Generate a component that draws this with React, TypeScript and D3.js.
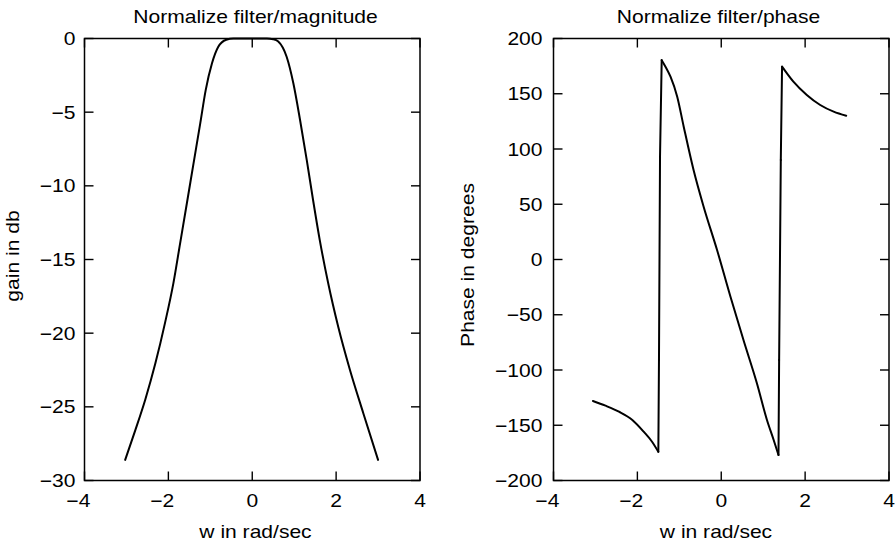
import React from "react";
import * as d3 from "d3";

// ---------- data ----------
const xTicks = [-4, -2, 0, 2, 4];
const magTicks = [0, -5, -10, -15, -20, -25, -30];
const phaseTicks = [200, 150, 100, 50, 0, -50, -100, -150, -200];

const magW = [-3.03, -2.79, -2.55, -2.31, -2.08, -1.88, -1.72, -1.56, -1.4, -1.24, -1.11, -0.96, -0.81, -0.62, -0.45, 0, 0.35, 0.5, 0.62, 0.82, 0.98, 1.14, 1.3, 1.45, 1.61, 1.81, 2.05, 2.33, 2.65, 3.0];
const magDb = [-28.6, -26.6, -24.5, -22.05, -19.3, -16.6, -13.9, -11.2, -8.47, -5.76, -3.5, -1.68, -0.56, -0.08, 0, 0, 0, -0.05, -0.2, -1.24, -3.04, -5.53, -8.25, -10.96, -13.68, -16.6, -19.57, -22.5, -25.45, -28.6];

const phaseW = [-3.06, -2.76, -2.44, -2.12, -1.85, -1.65, -1.5, -1.485, -1.46, -1.42, -1.33, -1.21, -1.05, -0.895, -0.66, -0.42, -0.1, 0.22, 0.53, 0.85, 1.09, 1.25, 1.365, 1.38, 1.42, 1.45, 1.72, 2.04, 2.36, 2.68, 2.98];
const phaseDeg = [-128, -132.3, -137.7, -145.2, -155.8, -164.9, -174, -91, 93, 180.4, 174.5, 165.4, 147.3, 120.2, 81, 47.8, 8.6, -33.7, -72.9, -112, -145.2, -163.3, -176.9, -91, 90, 174.5, 160.9, 148.9, 139.8, 133.8, 130.1];

// ---------- style ----------
const FONT = "'Liberation Sans', Arial, Helvetica, sans-serif";
const FS = 18;
const SX = 1.17;
const TICK = 9;

function T({ x, y, anchor = "start", rotate = 0, children }: any) {
  return (
    <text
      transform={`translate(${x},${y}) rotate(${rotate}) scale(${SX},1)`}
      textAnchor={anchor}
      fontFamily={FONT}
      fontSize={FS}
      fill="#000"
    >
      {children}
    </text>
  );
}

function fmt(v: number) {
  return String(Math.abs(v));
}

// split a series into smooth runs and steep (jump) links
function buildPaths(pts: number[][], x: any, y: any) {
  const smooth = d3
    .line<number[]>()
    .x((d) => x(d[0]))
    .y((d) => y(d[1]))
    .curve(d3.curveMonotoneX);
  const straight = d3
    .line<number[]>()
    .x((d) => x(d[0]))
    .y((d) => y(d[1]));
  const isJump = (a: number[], b: number[]) => Math.abs((b[1] - a[1]) / (b[0] - a[0])) > 1500;
  const out: string[] = [];
  let run: number[][] = [pts[0]];
  for (let i = 1; i < pts.length; i++) {
    if (isJump(pts[i - 1], pts[i])) {
      if (run.length > 1) out.push(smooth(run) || "");
      out.push(straight([pts[i - 1], pts[i]]) || "");
      run = [pts[i]];
    } else {
      run.push(pts[i]);
    }
  }
  if (run.length > 1) out.push(smooth(run) || "");
  return out;
}

function Panel({ x0, x1, y0, y1, yDomain, yTicks, xs, ys, title, ylabel, ylabelX, ylabelY, ytickRight, xlabelX, titleX }: any) {
  const x = d3.scaleLinear().domain([-4, 4]).range([x0, x1]);
  const y = d3.scaleLinear().domain(yDomain).range([y1, y0]);
  const pts = xs.map((w: number, i: number) => [w, ys[i]]);
  const paths = buildPaths(pts, x, y);
  const digitW = FS * 0.556 * SX;
  return (
    <g>
      {/* curve */}
      {paths.map((d, i) => (
        <path key={i} d={d} fill="none" stroke="#000" strokeWidth={2} strokeLinejoin="round" strokeLinecap="round" />
      ))}
      {/* ticks */}
      {xTicks.map((t) => (
        <g key={"xt" + t}>
          <line x1={x(t)} x2={x(t)} y1={y1} y2={y1 - TICK} stroke="#000" strokeWidth={1.4} />
          <line x1={x(t)} x2={x(t)} y1={y0} y2={y0 + TICK} stroke="#000" strokeWidth={1.4} />
          <T x={x(t)} y={y1 + 26.5} anchor="middle">{fmt(t)}</T>
          {t < 0 ? (
            <T x={x(t) - (fmt(t).length * digitW) / 2} y={y1 + 26.5} anchor="end">{"\u2212"}</T>
          ) : null}
        </g>
      ))}
      {yTicks.map((t: number) => (
        <g key={"yt" + t}>
          <line x1={x0} x2={x0 + TICK} y1={y(t)} y2={y(t)} stroke="#000" strokeWidth={1.4} />
          <line x1={x1} x2={x1 - TICK} y1={y(t)} y2={y(t)} stroke="#000" strokeWidth={1.4} />
          <T x={ytickRight} y={y(t) + 6.5} anchor="end">{t < 0 ? "\u2212" + fmt(t) : fmt(t)}</T>
        </g>
      ))}
      {/* box */}
      <rect x={x0} y={y0} width={x1 - x0} height={y1 - y0} fill="none" stroke="#000" strokeWidth={1.5} />
      {/* labels */}
      <T x={titleX} y={22.5} anchor="middle">{title}</T>
      <T x={xlabelX} y={538} anchor="middle">w in rad/sec</T>
      <T x={ylabelX} y={ylabelY} anchor="middle" rotate={-90}>{ylabel}</T>
    </g>
  );
}

export default function App() {
  return (
    <svg
      width={896}
      height={547}
      style={{ position: "absolute", left: 0, top: 0, background: "#fff" }}
    >
      <rect width={896} height={547} fill="#fff" />
      <Panel
        x0={84.5}
        x1={420}
        y0={38.5}
        y1={480.5}
        yDomain={[-30, 0]}
        yTicks={magTicks}
        xs={magW}
        ys={magDb}
        title="Normalize filter/magnitude"
        ylabel="gain in db"
        ylabelX={19}
        ylabelY={256}
        ytickRight={75.5}
        xlabelX={255.5}
        titleX={255.5}
      />
      <Panel
        x0={553.5}
        x1={889}
        y0={38.5}
        y1={480.5}
        yDomain={[-200, 200]}
        yTicks={phaseTicks}
        xs={phaseW}
        ys={phaseDeg}
        title="Normalize filter/phase"
        ylabel="Phase in degrees"
        ylabelX={474}
        ylabelY={265}
        ytickRight={542.5}
        xlabelX={716}
        titleX={718.5}
      />
    </svg>
  );
}
